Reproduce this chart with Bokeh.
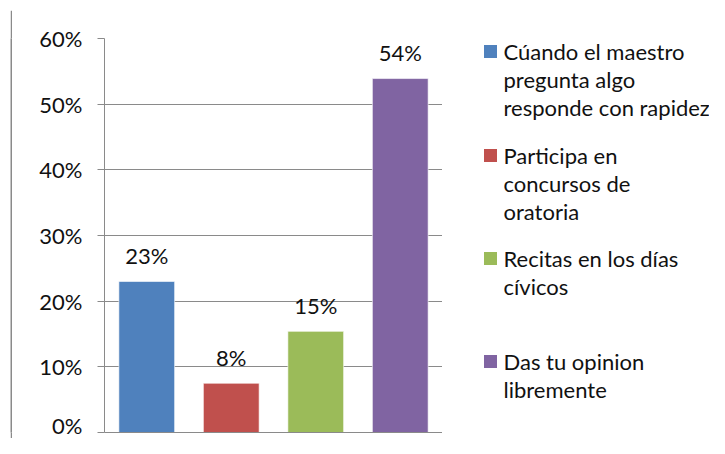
from bokeh.plotting import figure
from bokeh.layouts import row, column
from bokeh.models import Range1d, FixedTicker, NumeralTickFormatter, ColumnDataSource, LabelSet, Spacer
from bokeh.core.properties import value
from bokeh.embed import file_html
from bokeh.resources import INLINE

categories = ["Cúando el maestro\npregunta algo\nresponde con rapidez",
              "Participa en\nconcursos de\noratoria",
              "Recitas en los días\ncívicos",
              "Das tu opinion\nlibremente"]
values = [0.23, 0.075, 0.154, 0.539]
value_labels = ["23%", "8%", "15%", "54%"]
colors = ["#4F81BD", "#C0504D", "#9BBB59", "#8064A2"]
y_ticks = [0, 0.1, 0.2, 0.3, 0.4, 0.5, 0.6]

FONT = "Lato"
FS = "22px"
TXT = "#111111"
GREY = "#8a8a8a"

PAD_L, PAD_T = 10, 8
ML, MT, FH, MB = 92, 28, 394, 6
H = MT + FH + MB
FW = 338
W1 = ML + FW
W2 = 267


def border_strip(w, h):
    s = figure(width=w, height=h, output_backend="svg", toolbar_location=None,
               min_border=0, min_border_left=0, min_border_right=0, min_border_top=0, min_border_bottom=0,
               x_axis_location=None, y_axis_location=None)
    s.grid.visible = False
    s.outline_line_color = None
    s.background_fill_color = GREY
    s.border_fill_color = GREY
    return s


# ---- chart ----
p = figure(width=W1, height=H, output_backend="svg", toolbar_location=None,
           x_range=Range1d(0.5, 0.5 + len(categories)), y_range=Range1d(0, 0.6),
           min_border_left=ML, min_border_right=0, min_border_top=MT, min_border_bottom=MB)
p.outline_line_color = None
p.background_fill_color = "white"
p.border_fill_color = "white"

xs = list(range(1, len(categories) + 1))
src = ColumnDataSource(dict(x=xs, top=values, color=colors, lab=value_labels))
p.vbar(x="x", top="top", width=0.66, color="color", source=src, line_color="white", line_alpha=0.6)

p.add_layout(LabelSet(x="x", y="top", text="lab", source=src, text_align="center", text_baseline="middle",
                      y_offset=26, text_font=value(FONT), text_font_size=value(FS), text_color=TXT))

p.xgrid.visible = False
p.ygrid.ticker = FixedTicker(ticks=y_ticks)
p.ygrid.grid_line_color = GREY

p.yaxis.ticker = FixedTicker(ticks=y_ticks)
p.yaxis.formatter = NumeralTickFormatter(format="0%")
p.yaxis.axis_line_color = GREY
p.yaxis.major_tick_line_color = GREY
p.yaxis.major_tick_out = 7
p.yaxis.major_tick_in = 0
p.yaxis.minor_tick_line_color = None
p.yaxis.major_label_text_font = FONT
p.yaxis.major_label_text_font_size = FS
p.yaxis.major_label_text_color = TXT
p.yaxis.major_label_standoff = 15

p.xaxis.axis_line_color = GREY
p.xaxis.major_tick_line_color = None
p.xaxis.minor_tick_line_color = None
p.xaxis.ticker = FixedTicker(ticks=[])
p.xaxis.major_label_text_font_size = "0px"

# ---- legend panel: x and y in canvas pixels (y downwards), frame aligned with the chart frame ----
q = figure(width=W2, height=H, output_backend="svg", toolbar_location=None,
           x_range=Range1d(0, W2), y_range=Range1d(MT + FH, MT),
           min_border_left=0, min_border_right=0, min_border_top=MT, min_border_bottom=MB)
q.axis.visible = False
q.grid.visible = False
q.outline_line_color = None
q.border_fill_color = "white"

item_tops = [41, 145, 248, 351]
line_h = 28
sq_x, sq_size, txt_x = 48, 13, 61
lx, ly, lt, sx, sy, sc = [], [], [], [], [], []
for cat, col, top in zip(categories, colors, item_tops):
    sx.append(sq_x)
    sy.append(top)
    sc.append(col)
    for i, line in enumerate(cat.split("\n")):
        lx.append(txt_x)
        ly.append(top + i * line_h)
        lt.append(line)
q.rect(x=sx, y=sy, width=sq_size, height=sq_size, color=sc, line_color=None)
q.text(x=lx, y=ly, text=lt, text_baseline="middle", text_align="left",
       text_font=value(FONT), text_font_size=value(FS), text_color=TXT)

top_line = border_strip(2 + W1 + W2, 2)
left_line = border_strip(2, H)
chart_box = column(top_line, row(left_line, p, q, spacing=0), spacing=0)
layout = column(Spacer(width=PAD_L + 2 + W1 + W2, height=PAD_T),
                row(Spacer(width=PAD_L, height=2 + H), chart_box, spacing=0),
                spacing=0)

open("out.html", "w").write(file_html(layout, INLINE))
